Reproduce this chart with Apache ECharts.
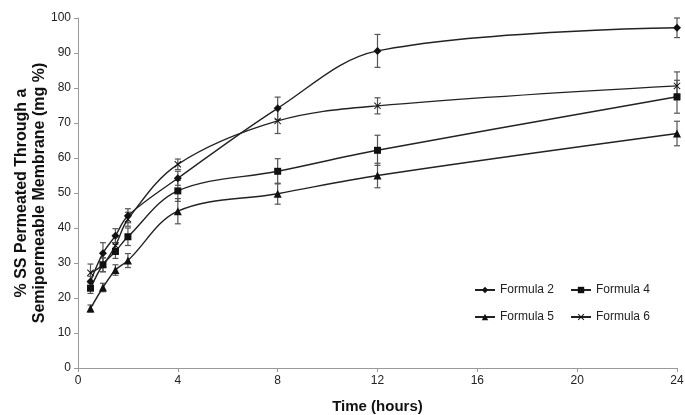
<!DOCTYPE html>
<html>
<head>
<meta charset="utf-8">
<script src="https://cdn.jsdelivr.net/npm/echarts@6/dist/echarts.min.js"></script>
<style>
  html, body { margin: 0; padding: 0; background: #fff; }
  #main { width: 685px; height: 415px; }
</style>
</head>
<body>
<div id="main"></div>
<script>
// time points (hours)
var hours = [0.5, 1, 1.5, 2, 4, 8, 12, 24]

// mean % permeated
var formula2 = [24.7, 32.8, 37.8, 43.5, 54.2, 74.2, 90.6, 97.2]
var formula4 = [22.8, 29.5, 33.3, 37.5, 50.6, 56.2, 62.2, 77.5]
var formula5 = [17.0, 23.0, 28.0, 30.7, 44.8, 49.8, 55.0, 67.0]
var formula6 = [27.2, 29.5, 35.0, 42.5, 58.2, 70.6, 74.9, 80.6]

// error (+/-)
var err2 = [1.5, 3.0, 2.0, 2.0, 2.0, 3.2, 4.7, 2.8]
var err4 = [1.5, 2.0, 2.0, 2.5, 3.0, 3.6, 4.3, 4.7]
var err5 = [1.0, 1.2, 1.5, 2.0, 3.6, 3.0, 3.5, 3.5]
var err6 = [2.5, 2.0, 2.5, 2.0, 1.5, 3.6, 2.3, 4.0]

var xTicks = [0, 4, 8, 12, 16, 20, 24]

var myChart = echarts.init(document.getElementById('main'))

function pairs(vals){
  return hours.map(function(h, i){ return [h, vals[i]] })
}
function bars(vals, errs){
  return hours.map(function(h, i){ return [h, vals[i] - errs[i], vals[i] + errs[i]] })
}

function errorBar(params, api){
  var lo = api.coord([api.value(0), api.value(1)])
  var hi = api.coord([api.value(0), api.value(2)])
  var w = 3
  var st = { stroke: '#555', lineWidth: 1.2 }
  return {
    type: 'group',
    children: [
      { type: 'line', shape: { x1: lo[0], y1: lo[1], x2: hi[0], y2: hi[1] }, style: st },
      { type: 'line', shape: { x1: lo[0] - w, y1: lo[1], x2: lo[0] + w, y2: lo[1] }, style: st },
      { type: 'line', shape: { x1: hi[0] - w, y1: hi[1], x2: hi[0] + w, y2: hi[1] }, style: st }
    ]
  }
}

var xSymbol = 'path://M0,1L1,0L5,4L9,0L10,1L6,5L10,9L9,10L5,6L1,10L0,9L4,5Z'

function lineSeries(name, vals, symbol, size){
  return {
    name: name,
    type: 'line',
    smooth: 0.35,
    data: pairs(vals),
    symbol: symbol,
    symbolSize: size,
    showAllSymbol: true,
    z: 3,
    lineStyle: { color: '#222', width: 1.4 },
    itemStyle: { color: '#111' }
  }
}

function errSeries(vals, errs){
  return {
    type: 'custom',
    renderItem: errorBar,
    data: bars(vals, errs),
    encode: { x: 0, y: [1, 2] },
    z: 2,
    silent: true
  }
}

var legendText = { fontFamily: 'Liberation Sans', fontSize: 12, color: '#222' }
var tickFont = "'Liberation Sans Narrow', 'Liberation Sans', sans-serif"

var option = {
  animation: false,
  grid: { left: 78, right: 8, top: 18, bottom: 47, outerBoundsMode: 'none' },
  legend: [{
    data: ['Formula 2', 'Formula 4'],
    left: 469, top: 279,
    itemWidth: 20, itemHeight: 8, itemGap: 16,
    textStyle: legendText
  }, {
    data: ['Formula 5', 'Formula 6'],
    left: 469, top: 306,
    itemWidth: 20, itemHeight: 8, itemGap: 16,
    textStyle: legendText
  }],
  xAxis: {
    type: 'value',
    min: 0, max: 24, interval: 4,
    name: 'Time (hours)',
    nameLocation: 'middle',
    nameGap: 31,
    nameTextStyle: { fontFamily: 'Liberation Sans', fontSize: 15, fontWeight: 'bold', color: '#111' },
    axisLine: { lineStyle: { color: '#999' } },
    axisTick: { show: true, length: 4, lineStyle: { color: '#999' } },
    axisLabel: {
      fontFamily: tickFont, fontSize: 12, color: '#222', margin: 7,
      formatter: function(v){ return xTicks.indexOf(v) >= 0 ? String(v) : '' }
    },
    splitLine: { show: false }
  },
  yAxis: {
    type: 'value',
    min: 0, max: 100, interval: 10,
    name: '% SS Permeated Through a\nSemipermeable Membrane (mg %)',
    nameLocation: 'middle',
    nameRotate: 90,
    nameGap: 29,
    nameMoveOverlap: false,
    nameTextStyle: { fontFamily: 'Liberation Sans', fontSize: 16, fontWeight: 'bold', color: '#111', lineHeight: 18 },
    axisLine: { show: true, lineStyle: { color: '#999' } },
    axisTick: { show: true, length: 4, lineStyle: { color: '#999' } },
    axisLabel: { fontFamily: tickFont, fontSize: 12, color: '#222', margin: 7 },
    splitLine: { show: false }
  },
  series: [
    errSeries(formula2, err2),
    errSeries(formula4, err4),
    errSeries(formula5, err5),
    errSeries(formula6, err6),
    lineSeries('Formula 2', formula2, 'diamond', 8),
    lineSeries('Formula 4', formula4, 'rect', 7),
    lineSeries('Formula 5', formula5, 'triangle', 8),
    lineSeries('Formula 6', formula6, xSymbol, 7)
  ]
}
myChart.setOption(option)
</script>
</body>
</html>
